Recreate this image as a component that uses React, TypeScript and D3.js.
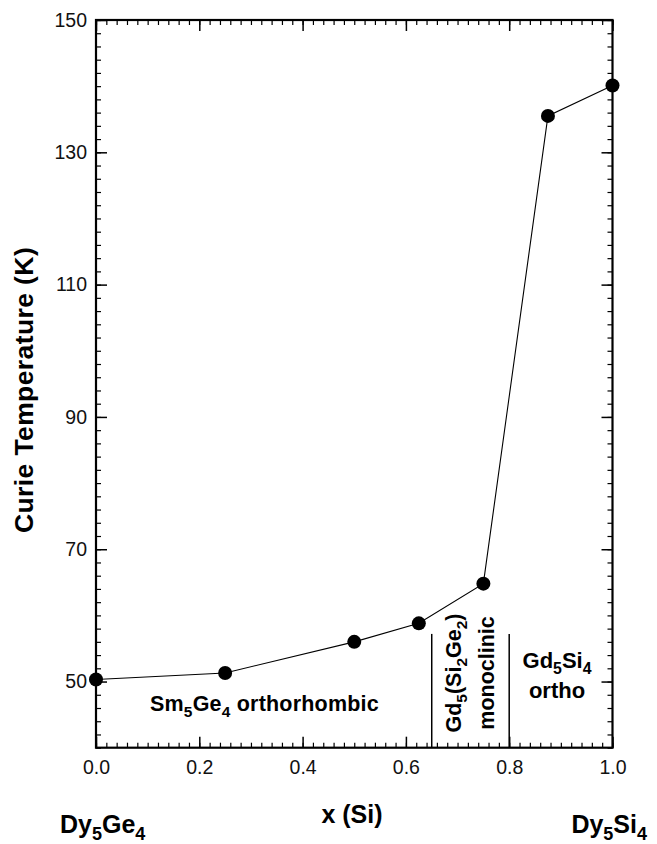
import React, { useEffect, useRef } from "react";
import * as d3 from "d3";

// composition x (Si) and Curie temperature (K)
const xValues = [0, 0.25, 0.5, 0.625, 0.75, 0.875, 1.0];
const curieT = [50.3, 51.3, 56.0, 58.8, 64.8, 135.5, 140.1];

const yMajor = [50, 70, 90, 110, 130, 150];
const xMajor = [0, 0.2, 0.4, 0.6, 0.8, 1.0];
const phaseBounds = [0.65, 0.8];

const W = 657, H = 844;
const FONT = "'Liberation Sans', Arial, Helvetica, sans-serif";

export default function App() {
	const ref = useRef<SVGSVGElement>(null);

	useEffect(() => {
		const svg = d3.select(ref.current);
		svg.selectAll("*").remove();

		const left = 96, right = 612.5, top = 20, bottom = 747.7;

		const x = d3.scaleLinear().domain([0, 1]).range([left, right]);
		const y = d3.scaleLinear().domain([40, 150]).range([bottom, top]);

		const xMinor = d3.range(0, 1.0001, 0.02);
		const yMinor = d3.range(40, 150.001, 2);

		const g = svg.append("g").attr("font-family", FONT);

		// minor ticks on all four sides
		const minor = (axis: any, tr: string) => {
			g.append("g")
				.attr("transform", tr)
				.call(axis.tickFormat(() => ""))
				.call((s: any) => s.select(".domain").remove())
				.selectAll("line").attr("stroke-width", 1.2);
		};
		minor(d3.axisBottom(x).tickValues(xMinor).tickSize(-5), `translate(0,${bottom})`);
		minor(d3.axisTop(x).tickValues(xMinor).tickSize(-5), `translate(0,${top})`);
		minor(d3.axisLeft(y).tickValues(yMinor).tickSize(-5), `translate(${left},0)`);
		minor(d3.axisRight(y).tickValues(yMinor).tickSize(-5), `translate(${right},0)`);

		// major ticks with labels
		const xAx = g.append("g")
			.attr("transform", `translate(0,${bottom})`)
			.call(d3.axisBottom(x).tickValues(xMajor).tickSize(-11).tickPadding(12).tickFormat(d3.format(".1f")));
		xAx.select(".domain").remove();
		xAx.selectAll("line").attr("stroke-width", 1.5);
		xAx.selectAll("text").attr("font-size", 19.5).attr("font-family", FONT).attr("fill", "#111");

		const yAx = g.append("g")
			.attr("transform", `translate(${left},0)`)
			.call(d3.axisLeft(y).tickValues(yMajor).tickSize(-11).tickPadding(9).tickFormat(d3.format("d")));
		yAx.select(".domain").remove();
		yAx.selectAll("line").attr("stroke-width", 1.5);
		yAx.selectAll("text").attr("font-size", 19.5).attr("font-family", FONT).attr("fill", "#111");

		g.append("g")
			.attr("transform", `translate(${right},0)`)
			.call(d3.axisRight(y).tickValues(yMajor).tickSize(-11).tickFormat(() => ""))
			.call((s: any) => s.select(".domain").remove())
			.selectAll("line").attr("stroke-width", 1.5);
		g.append("g")
			.attr("transform", `translate(0,${top})`)
			.call(d3.axisTop(x).tickValues(xMajor).tickSize(-11).tickFormat(() => ""))
			.call((s: any) => s.select(".domain").remove())
			.selectAll("line").attr("stroke-width", 1.5);

		// frame
		g.append("rect")
			.attr("x", left).attr("y", top)
			.attr("width", right - left).attr("height", bottom - top)
			.attr("fill", "none").attr("stroke", "#000").attr("stroke-width", 2.2);

		// phase boundaries
		g.selectAll(".bound")
			.data(phaseBounds)
			.enter().append("line")
				.attr("class", "bound")
				.attr("x1", d => x(d)).attr("x2", d => x(d))
				.attr("y1", y(40)).attr("y2", y(57.2))
				.attr("stroke", "#000").attr("stroke-width", 1.5);

		// data line & markers
		const pts = xValues.map((v, i) => [v, curieT[i]] as [number, number]);
		g.append("path")
			.datum(pts)
			.attr("fill", "none")
			.attr("stroke", "#000")
			.attr("stroke-width", 1.1)
			.attr("d", d3.line<[number, number]>().x(d => x(d[0])).y(d => y(d[1])));

		g.selectAll(".dot")
			.data(pts)
			.enter().append("circle")
				.attr("class", "dot")
				.attr("cx", d => x(d[0])).attr("cy", d => y(d[1]))
				.attr("r", 7).attr("fill", "#000");

		// text helper with subscripts
		const label = (parts: [string, boolean][], px: number, py: number, size: number, anchor: string, rot = 0, spacing = 0) => {
			const t = g.append("text")
				.attr("transform", `translate(${px},${py}) rotate(${rot})`)
				.attr("text-anchor", anchor)
				.attr("font-size", size)
				.attr("font-weight", "bold")
				.attr("letter-spacing", spacing)
				.attr("fill", "#000");
			parts.forEach(([s, sub], i) => {
				const ts = t.append("tspan").text(s);
				const prevSub = i > 0 && parts[i - 1][1];
				if (sub) ts.attr("font-size", size * 0.72).attr("dy", size * 0.28);
				else ts.attr("dy", prevSub ? -size * 0.28 : 0);
			});
			return t;
		};

		label([["Curie Temperature (K)", false]], 33, 390, 26.5, "middle", -90, 0.4);
		label([["x (Si)", false]], 352, 823, 25, "middle");
		label([["Dy", false], ["5", true], ["Ge", false], ["4", true]], 60, 833, 25, "start");
		label([["Dy", false], ["5", true], ["Si", false], ["4", true]], 647, 833, 25, "end");

		label([["Sm", false], ["5", true], ["Ge", false], ["4", true], [" orthorhombic", false]], 150, 711, 21.5, "start", 0, 0.2);
		label([["Gd", false], ["5", true], ["(Si", false], ["2", true], ["Ge", false], ["2", true], [")", false]], 461, 673, 21.5, "middle", -90);
		label([["monoclinic", false]], 494, 673, 21.5, "middle", -90);
		label([["Gd", false], ["5", true], ["Si", false], ["4", true]], 557, 668, 22, "middle");
		label([["ortho", false]], 557, 698, 22, "middle");
	}, []);

	return (
		<svg ref={ref} width={W} height={H}
			style={{ position: "absolute", left: 0, top: 0, background: "#fff" }} />
	);
}
